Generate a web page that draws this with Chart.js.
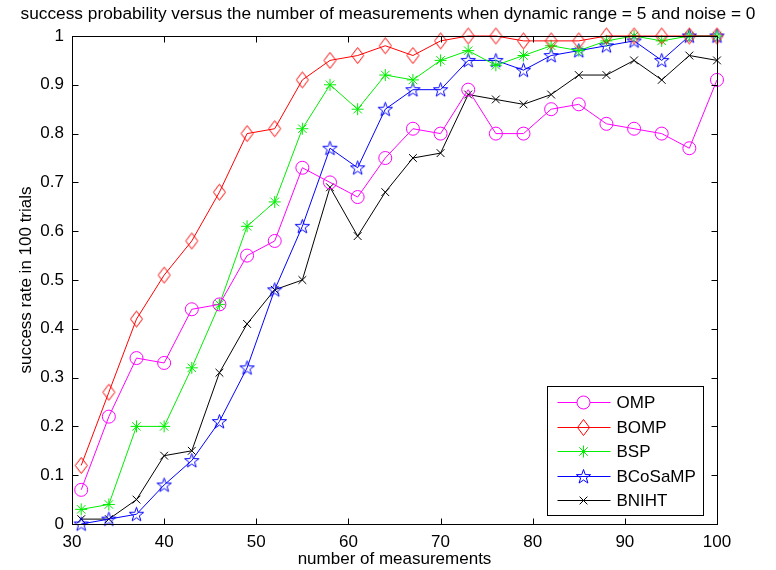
<!DOCTYPE html>
<html><head><meta charset="utf-8">
<script src="https://cdn.jsdelivr.net/npm/chart.js@4.4.1/dist/chart.umd.min.js"></script>
<style>html,body{margin:0;padding:0;background:#fff}</style>
</head><body>
<canvas id="c" width="776" height="570"></canvas>
<script>
const measurements = [31,34,37,40,43,46,49,52,55,58,61,64,67,70,73,76,79,82,85,88,91,94,97,100];
const ompRate     = [0.07,0.22,0.34,0.33,0.44,0.45,0.55,0.58,0.73,0.70,0.67,0.75,0.81,0.80,0.89,0.80,0.80,0.85,0.86,0.82,0.81,0.80,0.77,0.91];
const bompRate    = [0.12,0.27,0.42,0.51,0.58,0.68,0.80,0.81,0.91,0.95,0.96,0.98,0.96,0.99,1.00,1.00,0.99,0.99,0.99,1.00,1.00,1.00,1.00,1.00];
const bspRate     = [0.03,0.04,0.20,0.20,0.32,0.45,0.61,0.66,0.81,0.90,0.85,0.92,0.91,0.95,0.97,0.94,0.96,0.98,0.97,0.99,1.00,0.99,1.00,1.00];
const bcosampRate = [0.00,0.01,0.02,0.08,0.13,0.21,0.32,0.48,0.61,0.77,0.73,0.85,0.89,0.89,0.95,0.95,0.93,0.96,0.97,0.98,0.99,0.95,1.00,1.00];
const bnihtRate   = [0.01,0.01,0.05,0.14,0.15,0.31,0.41,0.48,0.50,0.69,0.59,0.68,0.75,0.76,0.88,0.87,0.86,0.88,0.92,0.92,0.95,0.91,0.96,0.95];
const seriesNames = ['OMP','BOMP','BSP','BCoSaMP','BNIHT'];
const xTicks = [30,40,50,60,70,80,90,100];
const yTicks = [0,0.1,0.2,0.3,0.4,0.5,0.6,0.7,0.8,0.9,1];

const FONT = "'Liberation Sans', Arial, Helvetica, sans-serif";
Chart.defaults.font.family = FONT;
Chart.defaults.color = '#000';

function makeDiamond(color){
  const c = document.createElement('canvas'); c.width = 15; c.height = 19;
  const g = c.getContext('2d'); g.strokeStyle = color; g.lineWidth = 1;
  g.beginPath(); g.moveTo(7.5,1.5); g.lineTo(13.5,9.5); g.lineTo(7.5,17.5); g.lineTo(1.5,9.5); g.closePath(); g.stroke();
  return c;
}
function makePentagram(color){
  const c = document.createElement('canvas'); c.width = 17; c.height = 17;
  const g = c.getContext('2d'); g.strokeStyle = color; g.lineWidth = 1;
  const cx = 8.5, cy = 9, R = 7.5, r = R*0.40;
  g.beginPath();
  for (let i=0;i<10;i++){
    const a = -Math.PI/2 + i*Math.PI/5;
    const rr = i%2===0 ? R : r;
    const px = cx + rr*Math.cos(a), py = cy + rr*Math.sin(a);
    if (i===0) g.moveTo(px,py); else g.lineTo(px,py);
  }
  g.closePath(); g.stroke();
  return c;
}

const colors = ['#ff00ff','#ff0000','#00ee00','#0000ff','#000000'];
const styles = ['circle', makeDiamond('#ff0000'), 'star', makePentagram('#0000ff'), 'crossRot'];
const radii = [6.5, 7, 6, 7, 5.5];
const values = [ompRate,bompRate,bspRate,bcosampRate,bnihtRate];

const datasets = values.map((vals,i)=>({
  label: seriesNames[i],
  data: measurements.map((m,j)=>({x:m, y:vals[j]})),
  borderColor: colors[i],
  backgroundColor: 'rgba(0,0,0,0)',
  pointBorderColor: colors[i],
  pointBackgroundColor: 'rgba(0,0,0,0)',
  pointStyle: styles[i],
  pointRadius: radii[i],
  pointBorderWidth: 1,
  borderWidth: 1,
  tension: 0,
  clip: false
}));

const framePlugin = {
  id: 'frame',
  afterDraw(chart){
    const {ctx, chartArea:a, scales} = chart;
    ctx.save();
    ctx.strokeStyle = '#000'; ctx.lineWidth = 1;
    const L = Math.round(a.left)+0.5, R = Math.round(a.right)+0.5, T = Math.round(a.top)+0.5, B = Math.round(a.bottom)+0.5;
    ctx.strokeRect(L, T, R-L, B-T);
    const tl = 6;
    ctx.beginPath();
    xTicks.forEach(v=>{
      const px = Math.round(scales.x.getPixelForValue(v))+0.5;
      ctx.moveTo(px,B); ctx.lineTo(px,B-tl);
      ctx.moveTo(px,T); ctx.lineTo(px,T+tl);
    });
    yTicks.forEach(v=>{
      const py = Math.round(scales.y.getPixelForValue(v))+0.5;
      ctx.moveTo(L,py); ctx.lineTo(L+tl,py);
      ctx.moveTo(R,py); ctx.lineTo(R-tl,py);
    });
    ctx.stroke();

    // legend box
    const bw = 156, bh = 129;
    const bx = Math.round(a.right) - 14 - bw + 0.5;
    const by = Math.round(a.bottom) - 9 - bh + 0.5;
    ctx.fillStyle = '#fff';
    ctx.fillRect(bx, by, bw, bh);
    ctx.strokeRect(bx, by, bw, bh);
    ctx.font = '17px ' + FONT;
    ctx.textBaseline = 'middle';
    ctx.textAlign = 'left';
    chart.data.datasets.forEach((ds,i)=>{
      const y = Math.round(by + 15.5 + i*24.6) + 0.5;
      ctx.strokeStyle = ds.borderColor; ctx.lineWidth = 1;
      ctx.beginPath(); ctx.moveTo(bx+10, y); ctx.lineTo(bx+63, y); ctx.stroke();
      Chart.helpers.drawPoint(ctx, {pointStyle: ds.pointStyle, radius: ds.pointRadius, borderWidth: 1, rotation: 0}, bx+36, y);
      ctx.fillStyle = '#000';
      ctx.fillText(ds.label, bx+69, y+1);
    });
    ctx.restore();
  }
};

new Chart(document.getElementById('c'), {
  type: 'line',
  data: { datasets },
  options: {
    responsive: false,
    animation: false,
    devicePixelRatio: 1,
    layout: { padding: 0 },
    plugins: {
      legend: { display: false },
      tooltip: { enabled: false },
      title: {
        display: true,
        text: 'success probability versus the number of measurements when dynamic range = 5 and noise = 0',
        color: '#000',
        font: { size: 17.3, weight: 'normal', family: FONT },
        padding: { top: 3.6, bottom: 11.64 }
      }
    },
    scales: {
      x: {
        type: 'linear', min: 30, max: 100,
        afterBuildTicks: s => { s.ticks = xTicks.map(v=>({value:v})); },
        afterFit: s => { s.height = 46; },
        grid: { display: false, drawTicks: false },
        border: { display: false },
        ticks: { font: { size: 17 }, padding: 8.5, maxRotation: 0, autoSkip: false, color: '#000' },
        title: { display: true, text: 'number of measurements', font: { size: 17 }, padding: { top: 0, bottom: 0 }, color: '#000' }
      },
      y: {
        type: 'linear', min: 0, max: 1,
        afterBuildTicks: s => { s.ticks = yTicks.map(v=>({value:v})); },
        afterFit: s => { s.width = 72; },
        grid: { display: false, drawTicks: false },
        border: { display: false },
        ticks: { font: { size: 17 }, padding: 8, autoSkip: false, color: '#000', callback: v => String(Number(v.toFixed(1))) },
        title: { display: true, text: 'success rate in 100 trials', font: { size: 17 }, padding: { top: 16.3, bottom: 0 }, color: '#000' }
      },
      yRight: {
        type: 'linear', position: 'right', display: true, min: 0, max: 1,
        afterFit: s => { s.width = 59; },
        grid: { display: false, drawTicks: false },
        border: { display: false },
        ticks: { display: false }
      }
    }
  },
  plugins: [framePlugin]
});
</script>
</body></html>
